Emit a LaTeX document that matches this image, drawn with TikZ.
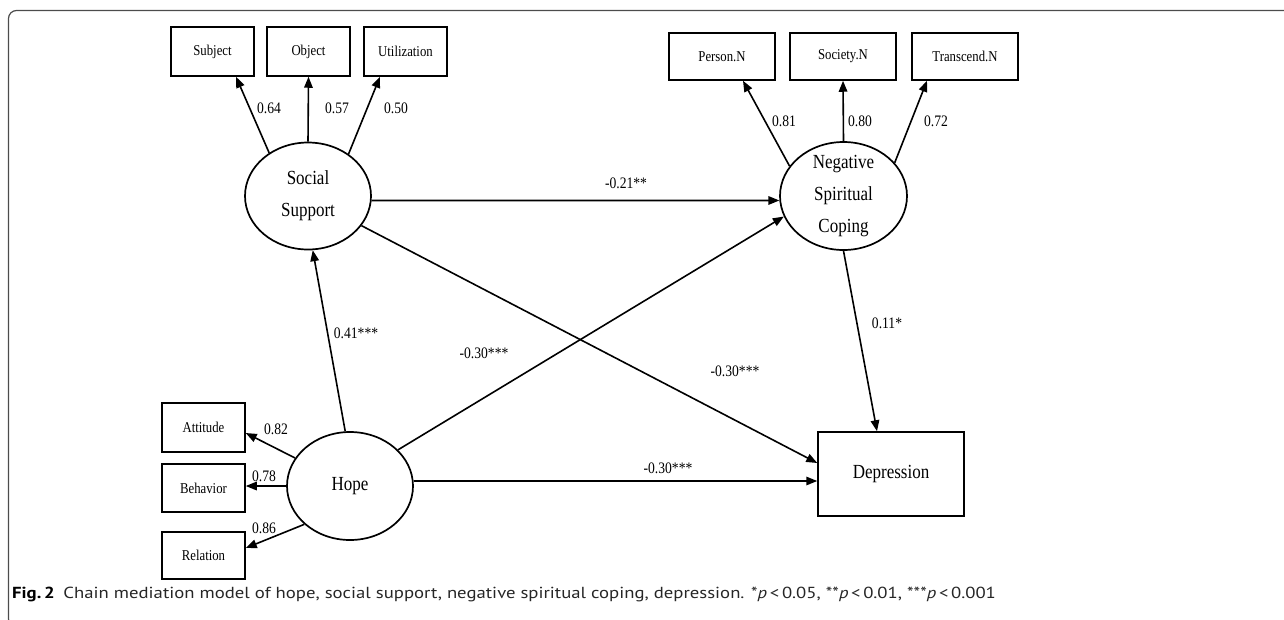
\documentclass[tikz,border=0pt]{standalone}
\usepackage{fontspec}
\setmainfont{Liberation Serif}[FakeStretch=0.85]
\newfontfamily\capfont{PT Sans}[FakeStretch=1.17]
\usetikzlibrary{arrows.meta,shapes.geometric}
\begin{document}
\begin{tikzpicture}[x=1pt,y=-1pt,
  box/.style={draw,line width=1.5pt,minimum width=83pt,minimum height=49pt,inner sep=0pt,font=\fontsize{15}{17}\selectfont},
  nbox/.style={box,minimum width=106pt,minimum height=47pt},
  lat/.style={draw,ellipse,line width=1.7pt,minimum width=126pt,minimum height=107pt,inner sep=0pt},
  lattext/.style={align=center,inner sep=0pt,font=\fontsize{20}{32}\selectfont},
  arr/.style={line width=1.6pt,-{Triangle[length=11pt,width=8.5pt]}},
  lbl/.style={inner sep=0pt,font=\fontsize{16}{18}\selectfont},
  frame/.style={draw=black!70,line width=1.2pt,rounded corners=8pt}
]
\useasboundingbox (0,0) rectangle (1284,619);
\clip (0,0) rectangle (1284,619);
\draw[frame] (1300,10.5) -- (8.5,10.5) -- (8.5,627) -- (30,627);

% indicators
\node[box] (subj) at (212.5,51.5) {Subject};
\node[box] (obj) at (308.5,51.5) {Object};
\node[box] (util) at (405.5,51.5) {Utilization};
\node[nbox] (pn) at (722,56.5) {Person.N};
\node[nbox] (sn) at (843,56.5) {Society.N};
\node[nbox] (tn) at (965,56.5) {Transcend.N};
\node[box] (att) at (203.5,427.5) {Attitude};
\node[box,minimum height=48pt] (beh) at (203.5,488) {Behavior};
\node[box,minimum height=47pt] (rel) at (203.5,555.5) {Relation};
\node[box,minimum width=146pt,minimum height=84pt,font=\fontsize{20}{24}\selectfont] (dep) at (891,474) {Depression};

% latent variables
\node[lat,label={[lattext]center:Social\\Support}] (ss) at (308,196) {};
\node[lat,minimum width=127pt,minimum height=108pt,label={[lattext]center:Negative\\Spiritual\\Coping}] (nsc) at (843.5,196) {};
\node[lat,minimum height=108pt,label={[lattext]center:Hope}] (hope) at (350,486) {};

% loadings
\draw[arr] (ss.132) -- ([xshift=23.5pt]subj.south);
\draw[arr] (ss.north) -- (obj.south);
\draw[arr] (ss.46) -- ([xshift=-25.5pt]util.south);
\draw[arr] (nsc.151) -- ([xshift=21pt]pn.south);
\draw[arr] (nsc.north) -- (sn.south);
\draw[arr] (nsc.33) -- ([xshift=-38pt]tn.south);
\draw[arr] (hope.153) -- ([yshift=-5.5pt]att.east);
\draw[arr] (hope.west) -- (hope.west -| beh.east);
\draw[arr] (hope.220) -- ([yshift=7.5pt]rel.east);

% structural paths
\draw[arr] (ss.-4) -- (nsc.184);
\draw[arr] (ss.-29) -- ([yshift=11pt]dep.west);
\draw[arr] (hope.95) -- (ss.275);
\draw[arr] (hope.37.5) -- (nsc.199);
\coordinate (h1) at ([yshift=5pt]hope.east);
\draw[arr] (h1) -- (h1 -| dep.west);
\draw[arr] (nsc.south) -- ([xshift=-14pt]dep.north);

% labels
\node[lbl] (l1) at (269,108) {0.64};
\node[lbl] (l2) at (337,108) {0.57};
\node[lbl] (l3) at (396,108) {0.50};
\node[lbl] (l4) at (784,121) {0.81};
\node[lbl] (l5) at (860,121) {0.80};
\node[lbl] (l6) at (936,121) {0.72};
\node[lbl] (l7) at (276,429) {0.82};
\node[lbl] (l8) at (264,476) {0.78};
\node[lbl] (l9) at (264,528) {0.86};
\node[lbl] (l10) at (626,183) {-0.21**};
\node[lbl] (l11) at (356,333) {0.41***};
\node[lbl] (l12) at (484,353) {-0.30***};
\node[lbl] (l13) at (735,371) {-0.30***};
\node[lbl] (l14) at (668,468) {-0.30***};
\node[lbl] (l15) at (887,323) {0.11*};

% caption
\node[anchor=base west,inner sep=0pt,font=\capfont\fontsize{16}{18}\selectfont] (cap) at (12,598)
  {\textbf{Fig.\,2}\hspace{0.55em}{\color{black!85}Chain mediation model of hope, social support, negative spiritual coping, depression. *\textit{p}\,<\,0.05, **\textit{p}\,<\,0.01, ***\textit{p}\,<\,0.001}};
\end{tikzpicture}
\end{document}
